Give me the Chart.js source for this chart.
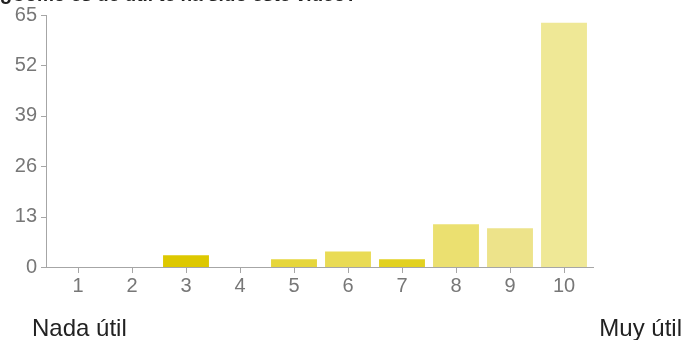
<!DOCTYPE html>
<html>
<head>
<meta charset="utf-8">
<script src="https://cdn.jsdelivr.net/npm/chart.js@4"></script>
<style>
  body { margin: 0; background: #fff; }
  #wrap { position: relative; width: 687px; height: 340px; overflow: hidden; }
  #title { position: absolute; left: 0; top: -16px; font: bold 19px "Liberation Sans", Arial, sans-serif; color: #222; white-space: nowrap; }
  .end { position: absolute; top: 314px; font: 24px "Liberation Sans", Arial, sans-serif; color: #222; }
  #low { left: 32px; }
  #high { right: 5px; }
</style>
</head>
<body>
<div id="wrap">
  <canvas id="chart" width="687" height="340"></canvas>
  <div id="title">¿Cómo es de útil te ha sido este vídeo?</div>
  <div class="end" id="low">Nada útil</div>
  <div class="end" id="high">Muy útil</div>
</div>
<script>
const ratings = ["1", "2", "3", "4", "5", "6", "7", "8", "9", "10"];
const counts = [0, 0, 3, 0, 2, 4, 2, 11, 10, 63];
const barColors = ["#ddc800", "#ddc800", "#ddc800", "#e6d63c", "#e6d63c", "#e9db55", "#e2d120", "#ebe070", "#ede38a", "#efe896"];
const yTicks = [0, 13, 26, 39, 52, 65];

// axis lines and small tick marks, drawn a little past the plot area
const axisLines = {
  id: "axisLines",
  afterDatasetsDraw(chart) {
    const ctx = chart.ctx;
    const x = chart.scales.x;
    const y = chart.scales.y;
    const left = chart.chartArea.left - 5;
    const right = chart.chartArea.right + 3;
    const zero = y.getPixelForValue(0);
    ctx.save();
    ctx.strokeStyle = "#a6a6a6";
    ctx.lineWidth = 1;
    ctx.beginPath();
    ctx.moveTo(left + 0.5, y.getPixelForValue(65));
    ctx.lineTo(left + 0.5, zero);
    ctx.moveTo(left, zero + 0.5);
    ctx.lineTo(right, zero + 0.5);
    yTicks.forEach(v => {
      const py = Math.round(y.getPixelForValue(v)) + 0.5;
      ctx.moveTo(left - 5, py);
      ctx.lineTo(left, py);
    });
    ratings.forEach((r, i) => {
      const px = Math.round(x.getPixelForValue(i)) + 0.5;
      ctx.moveTo(px, zero);
      ctx.lineTo(px, zero + 6);
    });
    ctx.stroke();
    ctx.restore();
  }
};

new Chart(document.getElementById("chart"), {
  type: "bar",
  data: {
    labels: ratings,
    datasets: [
      {
        data: counts,
        backgroundColor: barColors,
        borderWidth: 0,
        barPercentage: 0.85,
        categoryPercentage: 1,
      },
    ],
  },
  options: {
    responsive: false,
    animation: false,
    layout: { padding: { left: 0, right: 96, top: 15, bottom: 0 } },
    plugins: { legend: { display: false }, tooltip: { enabled: false } },
    scales: {
      x: {
        grid: { display: false, drawTicks: false },
        border: { display: false },
        ticks: { color: "#777", font: { family: "Liberation Sans", size: 20 }, padding: 7, maxRotation: 0 },
        afterFit(scale) {
          scale.height = 73;
          scale.paddingLeft = 0;
          scale.paddingRight = 0;
        },
      },
      y: {
        min: 0,
        max: 65,
        grid: { display: false, drawTicks: false },
        border: { display: false },
        afterBuildTicks(scale) { scale.ticks = yTicks.map(v => ({ value: v })); },
        ticks: { color: "#777", font: { family: "Liberation Sans", size: 20 }, padding: 14 },
        afterFit(scale) {
          scale.width = 51;
          scale.paddingTop = 0;
          scale.paddingBottom = 0;
        },
      },
    },
  },
  plugins: [axisLines],
});
</script>
</body>
</html>
